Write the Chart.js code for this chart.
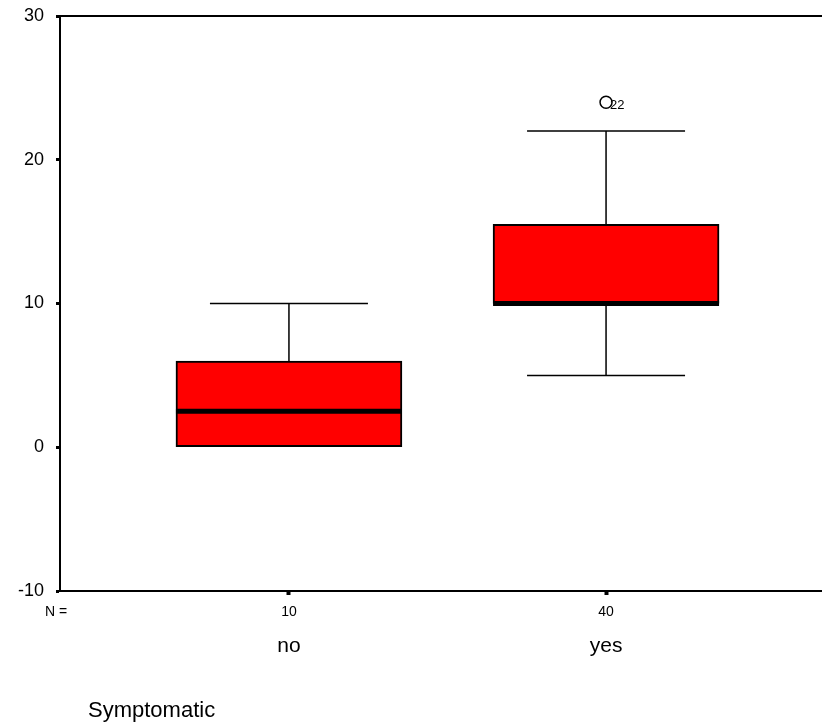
<!DOCTYPE html>
<html>
<head>
<meta charset="utf-8">
<script src="https://cdn.jsdelivr.net/npm/chart.js@4.4.1/dist/chart.umd.min.js"></script>
<style>
  html, body { margin: 0; padding: 0; background: #fff; }
  #wrap { width: 822px; height: 727px; }
</style>
</head>
<body>
<div id="wrap"><canvas id="boxplot" width="822" height="727"></canvas></div>
<script>
// groups and their sizes
const categories = ['no', 'yes'];
const counts = [10, 40];

// five-number summaries per group
const whiskerLow = [0, 5];
const q1 = [0, 10];
const medians = [2.5, 10];
const q3 = [6, 15.5];
const whiskerHigh = [10, 22];

// outliers: group index, value, case number
const outlierGroup = [1];
const outlierValues = [24];
const outlierCases = ['22'];

const yTicks = [-10, 0, 10, 20, 30];
const xTitle = 'Symptomatic';

const FONT = "'Liberation Sans', Arial, sans-serif";

const boxData = categories.map((c, i) => ({ x: i + 1, y: [q1[i], q3[i]] }));
const outlierData = outlierGroup.map((g, i) => ({ x: g + 1, y: outlierValues[i] }));

const boxExtras = {
  id: 'boxExtras',
  beforeDatasetsDraw(chart) {
    // whiskers sit behind the boxes
    const { ctx, scales: { x, y } } = chart;
    ctx.save();
    ctx.strokeStyle = '#000';
    ctx.lineWidth = 1.5;
    categories.forEach((c, i) => {
      const cx = x.getPixelForValue(i + 1);
      const half = 79;
      [[whiskerHigh[i], q3[i]], [whiskerLow[i], q1[i]]].forEach(([end, edge]) => {
        if (end === edge) return;
        const ye = y.getPixelForValue(end);
        ctx.beginPath();
        ctx.moveTo(cx, ye);
        ctx.lineTo(cx, y.getPixelForValue(edge));
        ctx.moveTo(cx - half, ye);
        ctx.lineTo(cx + half, ye);
        ctx.stroke();
      });
    });
    ctx.restore();
  },
  afterDatasetsDraw(chart) {
    const { ctx, chartArea, scales: { x, y } } = chart;
    ctx.save();
    // medians
    const bars = chart.getDatasetMeta(0).data;
    ctx.strokeStyle = '#000';
    ctx.lineWidth = 5;
    categories.forEach((c, i) => {
      const bar = bars[i];
      const ym = y.getPixelForValue(medians[i]);
      ctx.beginPath();
      ctx.moveTo(bar.x - bar.width / 2, ym);
      ctx.lineTo(bar.x + bar.width / 2, ym);
      ctx.stroke();
    });
    // outlier case labels
    ctx.fillStyle = '#000';
    ctx.font = '13px ' + FONT;
    ctx.textBaseline = 'middle';
    ctx.textAlign = 'left';
    outlierGroup.forEach((g, i) => {
      const px = x.getPixelForValue(g + 1);
      const py = y.getPixelForValue(outlierValues[i]);
      ctx.fillText(outlierCases[i], px + 4, py + 3);
    });
    // top frame line
    ctx.lineWidth = 2;
    ctx.beginPath();
    ctx.moveTo(chartArea.left - 1, chartArea.top);
    ctx.lineTo(chartArea.right, chartArea.top);
    ctx.stroke();
    ctx.restore();
  },
  afterDraw(chart) {
    const { ctx, scales: { x } } = chart;
    ctx.save();
    ctx.fillStyle = '#000';
    ctx.textBaseline = 'middle';
    ctx.font = '14px ' + FONT;
    ctx.textAlign = 'left';
    ctx.fillText('N =', 45, 612);
    ctx.font = '21px ' + FONT;
    ctx.textAlign = 'center';
    categories.forEach((c, i) => {
      ctx.fillText(c, x.getPixelForValue(i + 1), 646);
    });
    ctx.font = '22px ' + FONT;
    ctx.textAlign = 'left';
    ctx.fillText(xTitle, 88, 711);
    ctx.restore();
  }
};

new Chart(document.getElementById('boxplot'), {
  type: 'bar',
  data: {
    datasets: [
      {
        data: boxData,
        backgroundColor: '#ff0000',
        borderColor: '#000',
        borderWidth: 2,
        borderSkipped: false,
        barThickness: 226
      },
      {
        type: 'scatter',
        data: outlierData,
        pointStyle: 'circle',
        pointRadius: 6,
        borderColor: '#000',
        borderWidth: 1.5,
        backgroundColor: 'rgba(0,0,0,0)'
      }
    ]
  },
  options: {
    responsive: false,
    animation: false,
    layout: { autoPadding: false, padding: { top: 16, right: 0, left: 0, bottom: 0 } },
    plugins: { legend: { display: false }, tooltip: { enabled: false } },
    scales: {
      x: {
        type: 'linear',
        offset: false,
        min: 0.278,
        max: 2.681,
        afterBuildTicks: s => { s.ticks = categories.map((c, i) => ({ value: i + 1 })); },
        afterFit: s => { s.height = 136; s.paddingLeft = 0; s.paddingRight = 0; },
        grid: { offset: false, drawOnChartArea: false, drawTicks: true, tickLength: 4, tickWidth: 4, tickColor: '#000' },
        border: { display: true, color: '#000', width: 2 },
        ticks: {
          autoSkip: false,
          maxRotation: 0,
          padding: 9,
          color: '#000',
          font: { family: FONT, size: 14 },
          callback: (v, i) => counts[i]
        }
      },
      y: {
        min: yTicks[0],
        max: yTicks[yTicks.length - 1],
        afterBuildTicks: s => { s.ticks = yTicks.map(v => ({ value: v })); },
        afterFit: s => { s.width = 60; s.paddingTop = 0; s.paddingBottom = 0; },
        grid: { drawOnChartArea: false, drawTicks: true, tickLength: 4, tickWidth: 3, tickColor: '#000' },
        border: { display: true, color: '#000', width: 2 },
        ticks: {
          padding: 12,
          color: '#000',
          font: { family: FONT, size: 18 }
        }
      }
    }
  },
  plugins: [boxExtras]
});
</script>
</body>
</html>
